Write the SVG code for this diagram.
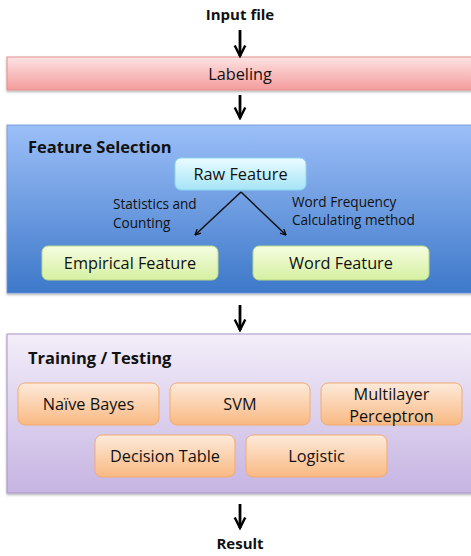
<svg xmlns="http://www.w3.org/2000/svg" width="471" height="556" viewBox="0 0 471 556">
  <defs>
    <linearGradient id="gPink" x1="0" y1="0" x2="0" y2="1">
      <stop offset="0" stop-color="#fde3e3"/>
      <stop offset="1" stop-color="#f59c9c"/>
    </linearGradient>
    <linearGradient id="gBlue" x1="0" y1="0" x2="0" y2="1">
      <stop offset="0" stop-color="#9cbff8"/>
      <stop offset="1" stop-color="#3d78c9"/>
    </linearGradient>
    <linearGradient id="gCyan" x1="0" y1="0" x2="0" y2="1">
      <stop offset="0" stop-color="#eafcff"/>
      <stop offset="1" stop-color="#a6e4f7"/>
    </linearGradient>
    <linearGradient id="gGreen" x1="0" y1="0" x2="0" y2="1">
      <stop offset="0" stop-color="#f6fde0"/>
      <stop offset="1" stop-color="#d5f0a2"/>
    </linearGradient>
    <linearGradient id="gLav" x1="0" y1="0" x2="0" y2="1">
      <stop offset="0" stop-color="#f3eef9"/>
      <stop offset="1" stop-color="#c6b4e2"/>
    </linearGradient>
    <linearGradient id="gOrange" x1="0" y1="0" x2="0" y2="1">
      <stop offset="0" stop-color="#fdeadb"/>
      <stop offset="1" stop-color="#f9b982"/>
    </linearGradient>
    <filter id="shadow" x="-5%" y="-10%" width="110%" height="130%">
      <feDropShadow dx="0" dy="1.5" stdDeviation="1" flood-color="#000" flood-opacity="0.3"/>
    </filter>
    <marker id="arrow" viewBox="0 0 10 10" refX="9" refY="5" markerWidth="7" markerHeight="7" orient="auto" markerUnits="userSpaceOnUse">
      <path d="M1,1 L9,5 L1,9" fill="none" stroke="#000" stroke-width="1.8"/>
    </marker>
    <marker id="bigArrow" viewBox="0 0 16 16" refX="14" refY="8" markerWidth="14" markerHeight="14" orient="auto" markerUnits="userSpaceOnUse">
      <path d="M2,2 L14,8 L2,14" fill="none" stroke="#000" stroke-width="2.8"/>
    </marker>
  </defs>
  <style>
    text { font-family: "Open Sans", "Liberation Sans", sans-serif; fill: #111; }
    .title { font-size: 15px; font-weight: bold; }
    .head { font-size: 16.5px; font-weight: bold; }
    .node { font-size: 16.3px; text-anchor: middle; }
    .lbl { font-size: 13.6px; }
    .flow { stroke: #000; stroke-width: 2.8; fill: none; }
    .thin { stroke: #111; stroke-width: 1.5; fill: none; }
  </style>

  <g id="input">
    <text class="title" x="240" y="20" text-anchor="middle">Input file</text>
  </g>

  <g id="labeling">
    <rect x="7" y="57" width="470" height="33" fill="url(#gPink)" stroke="#e39090" stroke-width="1" filter="url(#shadow)"/>
    <text class="node" x="240" y="80">Labeling</text>
  </g>

  <g id="feature-selection">
    <rect x="7" y="125" width="470" height="168" fill="url(#gBlue)" stroke="#6d95d6" stroke-width="0.8" filter="url(#shadow)"/>
    <text class="head" x="28" y="153">Feature Selection</text>
  </g>

  <g id="raw-feature">
    <rect x="175" y="158" width="131" height="32" rx="6" fill="url(#gCyan)" stroke="#8fd4ee" stroke-width="1"/>
    <text class="node" x="240.5" y="180">Raw Feature</text>
  </g>

  <g id="empirical-feature">
    <rect x="42" y="246" width="176" height="34" rx="6" fill="url(#gGreen)" stroke="#b8d888" stroke-width="1"/>
    <text class="node" x="130" y="269">Empirical Feature</text>
  </g>

  <g id="word-feature">
    <rect x="253" y="246" width="176" height="34" rx="6" fill="url(#gGreen)" stroke="#b8d888" stroke-width="1"/>
    <text class="node" x="341" y="269">Word Feature</text>
  </g>

  <g id="training-testing">
    <rect x="7" y="334" width="470" height="159" fill="url(#gLav)" stroke="#a994c8" stroke-width="1" filter="url(#shadow)"/>
    <text class="head" x="28" y="364">Training / Testing</text>
  </g>

  <g id="naive-bayes">
    <rect x="18" y="383" width="141" height="42" rx="7" fill="url(#gOrange)" stroke="#f2ab70" stroke-width="1"/>
    <text class="node" x="88.5" y="410">Naïve Bayes</text>
  </g>

  <g id="svm">
    <rect x="170" y="383" width="140" height="42" rx="7" fill="url(#gOrange)" stroke="#f2ab70" stroke-width="1"/>
    <text class="node" x="240" y="410">SVM</text>
  </g>

  <g id="multilayer-perceptron">
    <rect x="321" y="383" width="141" height="42" rx="7" fill="url(#gOrange)" stroke="#f2ab70" stroke-width="1"/>
    <text class="node" x="391.5" y="400">Multilayer</text>
    <text class="node" x="391.5" y="422">Perceptron</text>
  </g>

  <g id="decision-table">
    <rect x="95" y="435" width="140" height="42" rx="7" fill="url(#gOrange)" stroke="#f2ab70" stroke-width="1"/>
    <text class="node" x="165" y="462">Decision Table</text>
  </g>

  <g id="logistic">
    <rect x="246" y="435" width="141" height="42" rx="7" fill="url(#gOrange)" stroke="#f2ab70" stroke-width="1"/>
    <text class="node" x="316.5" y="462">Logistic</text>
  </g>

  <g id="result">
    <text class="title" x="240" y="549" text-anchor="middle">Result</text>
  </g>

  <g id="connectors">
    <line class="flow" x1="240" y1="30" x2="240" y2="56" marker-end="url(#bigArrow)"/>
    <line class="flow" x1="240" y1="95" x2="240" y2="118" marker-end="url(#bigArrow)"/>
    <line class="flow" x1="240" y1="305" x2="240" y2="330" marker-end="url(#bigArrow)"/>
    <line class="flow" x1="240" y1="504" x2="240" y2="528" marker-end="url(#bigArrow)"/>
    <line class="thin" x1="241" y1="192" x2="195" y2="235" marker-end="url(#arrow)"/>
    <line class="thin" x1="241" y1="192" x2="286" y2="235" marker-end="url(#arrow)"/>
    <text class="lbl" x="113" y="209">Statistics and</text>
    <text class="lbl" x="113" y="228">Counting</text>
    <text class="lbl" x="292" y="207">Word Frequency</text>
    <text class="lbl" x="292" y="225">Calculating method</text>
  </g>
</svg>
